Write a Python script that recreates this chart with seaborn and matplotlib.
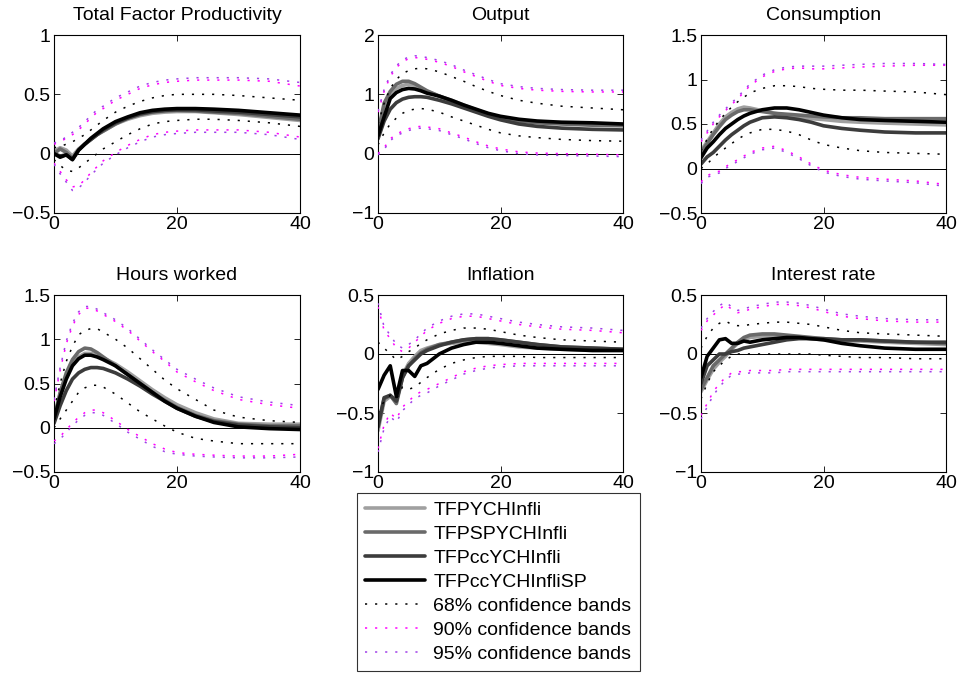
import matplotlib
matplotlib.use("Agg")
import matplotlib.pyplot as plt
import seaborn as sns
import pandas as pd
from matplotlib.ticker import FuncFormatter

# ---------------- data ----------------
t = [0, 1, 2, 3, 4, 5, 6, 7, 8, 10, 12, 14, 16, 18, 20, 23, 26, 30, 35, 40]

series_labels = ["TFPYCHInfli", "TFPSPYCHInfli", "TFPccYCHInfli", "TFPccYCHInfliSP"]
band_labels = ["68% confidence bands", "90% confidence bands", "95% confidence bands"]
titles = ["Total Factor Productivity", "Output", "Consumption",
          "Hours worked", "Inflation", "Interest rate"]
ylims = [(-0.5, 1), (-1, 2), (-0.5, 1.5), (-0.5, 1.5), (-1, 0.5), (-1, 0.5)]
yticks = [[-0.5, 0, 0.5, 1], [-1, 0, 1, 2], [-0.5, 0, 0.5, 1, 1.5],
          [-0.5, 0, 0.5, 1, 1.5], [-1, -0.5, 0, 0.5], [-1, -0.5, 0, 0.5]]
xticks = [0, 20, 40]

# Total Factor Productivity
tfp_a = [0.02, 0.05, 0.03, -0.02, 0.04, 0.08, 0.12, 0.16, 0.19, 0.25, 0.29, 0.32, 0.34, 0.35, 0.355, 0.355, 0.345, 0.33, 0.305, 0.28]
tfp_b = [0.0, 0.04, 0.01, -0.04, 0.03, 0.08, 0.12, 0.16, 0.19, 0.25, 0.3, 0.33, 0.35, 0.36, 0.365, 0.36, 0.35, 0.34, 0.315, 0.29]
tfp_c = [0.0, -0.02, -0.01, -0.05, 0.03, 0.08, 0.12, 0.16, 0.2, 0.26, 0.3, 0.335, 0.355, 0.365, 0.37, 0.37, 0.36, 0.35, 0.33, 0.31]
tfp_d = [0.0, -0.03, -0.01, -0.05, 0.03, 0.08, 0.13, 0.17, 0.21, 0.27, 0.31, 0.345, 0.365, 0.375, 0.38, 0.38, 0.375, 0.365, 0.345, 0.325]
tfp_u68 = [0.05, 0.06, 0.08, 0.1, 0.13, 0.16, 0.2, 0.24, 0.28, 0.35, 0.4, 0.44, 0.47, 0.49, 0.5, 0.5, 0.5, 0.49, 0.47, 0.45]
tfp_l68 = [-0.05, -0.1, -0.14, -0.15, -0.12, -0.08, -0.04, 0.0, 0.04, 0.1, 0.16, 0.21, 0.25, 0.27, 0.28, 0.29, 0.29, 0.28, 0.26, 0.23]
tfp_u90 = [0.08, 0.1, 0.13, 0.16, 0.2, 0.25, 0.3, 0.35, 0.38, 0.45, 0.5, 0.55, 0.58, 0.6, 0.61, 0.62, 0.62, 0.62, 0.61, 0.57]
tfp_l90 = [-0.08, -0.15, -0.22, -0.28, -0.27, -0.22, -0.16, -0.11, -0.06, 0.01, 0.07, 0.12, 0.16, 0.18, 0.19, 0.2, 0.2, 0.2, 0.18, 0.14]
tfp_u95 = [0.09, 0.11, 0.14, 0.18, 0.22, 0.27, 0.32, 0.37, 0.4, 0.47, 0.52, 0.57, 0.6, 0.62, 0.63, 0.64, 0.64, 0.64, 0.63, 0.6]
tfp_l95 = [-0.09, -0.17, -0.24, -0.31, -0.29, -0.24, -0.18, -0.13, -0.08, -0.01, 0.05, 0.1, 0.14, 0.16, 0.17, 0.18, 0.18, 0.18, 0.16, 0.12]

# Output
out_a = [0.35, 0.8, 1.0, 1.1, 1.15, 1.17, 1.15, 1.1, 1.05, 0.97, 0.9, 0.82, 0.74, 0.67, 0.61, 0.56, 0.53, 0.51, 0.49, 0.48]
out_b = [0.35, 0.85, 1.05, 1.17, 1.22, 1.22, 1.18, 1.12, 1.06, 0.97, 0.89, 0.81, 0.73, 0.66, 0.6, 0.55, 0.52, 0.5, 0.48, 0.47]
out_c = [0.25, 0.55, 0.75, 0.86, 0.92, 0.95, 0.96, 0.96, 0.95, 0.9, 0.84, 0.77, 0.7, 0.63, 0.57, 0.5, 0.46, 0.43, 0.41, 0.4]
out_d = [0.3, 0.62, 0.93, 1.03, 1.08, 1.1, 1.09, 1.06, 1.02, 0.97, 0.9, 0.82, 0.75, 0.68, 0.63, 0.58, 0.55, 0.53, 0.52, 0.5]
out_u68 = [0.5, 0.85, 1.1, 1.25, 1.35, 1.4, 1.43, 1.44, 1.43, 1.38, 1.3, 1.22, 1.13, 1.05, 0.98, 0.9, 0.85, 0.8, 0.77, 0.74]
out_l68 = [0.15, 0.35, 0.5, 0.6, 0.68, 0.73, 0.75, 0.76, 0.75, 0.7, 0.62, 0.55, 0.48, 0.41, 0.35, 0.3, 0.27, 0.24, 0.22, 0.21]
out_u90 = [0.7, 1.05, 1.3, 1.45, 1.55, 1.6, 1.62, 1.61, 1.59, 1.54, 1.47, 1.38, 1.3, 1.22, 1.15, 1.1, 1.07, 1.05, 1.04, 1.04]
out_l90 = [0.0, 0.1, 0.25, 0.33, 0.38, 0.42, 0.45, 0.46, 0.45, 0.42, 0.35, 0.28, 0.2, 0.13, 0.08, 0.03, 0.01, 0.0, -0.01, -0.02]
out_u95 = [0.72, 1.08, 1.33, 1.48, 1.58, 1.63, 1.65, 1.64, 1.62, 1.57, 1.5, 1.41, 1.33, 1.25, 1.18, 1.13, 1.1, 1.08, 1.07, 1.07]
out_l95 = [-0.02, 0.07, 0.22, 0.3, 0.35, 0.39, 0.42, 0.43, 0.42, 0.39, 0.32, 0.25, 0.17, 0.1, 0.05, 0.0, -0.02, -0.03, -0.04, -0.05]

# Consumption
con_a = [0.2, 0.3, 0.4, 0.5, 0.58, 0.63, 0.67, 0.69, 0.68, 0.65, 0.62, 0.6, 0.58, 0.56, 0.55, 0.53, 0.52, 0.51, 0.5, 0.49]
con_b = [0.18, 0.28, 0.38, 0.47, 0.55, 0.6, 0.64, 0.66, 0.66, 0.64, 0.62, 0.61, 0.6, 0.59, 0.58, 0.57, 0.57, 0.56, 0.56, 0.56]
con_c = [0.05, 0.13, 0.18, 0.25, 0.32, 0.38, 0.43, 0.48, 0.52, 0.57, 0.58, 0.57, 0.55, 0.52, 0.48, 0.45, 0.43, 0.41, 0.4, 0.4]
con_d = [0.12, 0.23, 0.3, 0.38, 0.45, 0.5, 0.55, 0.59, 0.62, 0.66, 0.68, 0.68, 0.66, 0.63, 0.6, 0.57, 0.55, 0.54, 0.53, 0.52]
con_u68 = [0.2, 0.33, 0.45, 0.54, 0.62, 0.69, 0.75, 0.8, 0.85, 0.9, 0.93, 0.93, 0.92, 0.9, 0.89, 0.88, 0.88, 0.87, 0.86, 0.83]
con_l68 = [0.0, 0.05, 0.12, 0.18, 0.23, 0.28, 0.33, 0.37, 0.4, 0.44, 0.44, 0.42, 0.38, 0.32, 0.27, 0.23, 0.2, 0.18, 0.17, 0.16]
con_u90 = [0.3, 0.4, 0.5, 0.58, 0.65, 0.72, 0.78, 0.86, 0.93, 1.03, 1.09, 1.12, 1.13, 1.12, 1.12, 1.13, 1.14, 1.15, 1.16, 1.16]
con_l90 = [-0.15, -0.08, -0.05, -0.03, 0.02, 0.06, 0.1, 0.14, 0.18, 0.23, 0.25, 0.2, 0.13, 0.05, -0.02, -0.07, -0.1, -0.12, -0.14, -0.18]
con_u95 = [0.32, 0.42, 0.52, 0.6, 0.67, 0.74, 0.8, 0.88, 0.95, 1.05, 1.11, 1.14, 1.15, 1.15, 1.15, 1.16, 1.17, 1.18, 1.18, 1.17]
con_l95 = [-0.17, -0.1, -0.07, -0.05, 0.0, 0.04, 0.08, 0.12, 0.16, 0.21, 0.23, 0.18, 0.11, 0.03, -0.04, -0.09, -0.12, -0.14, -0.16, -0.2]

# Hours worked
hrs_a = [0.1, 0.38, 0.58, 0.72, 0.8, 0.84, 0.84, 0.82, 0.79, 0.72, 0.63, 0.53, 0.43, 0.34, 0.26, 0.17, 0.1, 0.05, 0.04, 0.04]
hrs_b = [0.1, 0.4, 0.62, 0.77, 0.86, 0.9, 0.89, 0.85, 0.8, 0.7, 0.6, 0.5, 0.4, 0.31, 0.23, 0.14, 0.08, 0.04, 0.02, 0.02]
hrs_c = [0.05, 0.25, 0.42, 0.55, 0.62, 0.66, 0.68, 0.68, 0.67, 0.62, 0.55, 0.47, 0.38, 0.3, 0.22, 0.13, 0.07, 0.03, 0.01, 0.0]
hrs_d = [0.1, 0.35, 0.55, 0.7, 0.78, 0.82, 0.82, 0.8, 0.77, 0.7, 0.6, 0.5, 0.4, 0.3, 0.22, 0.13, 0.06, 0.01, -0.01, -0.02]
hrs_u68 = [0.2, 0.5, 0.75, 0.92, 1.05, 1.1, 1.12, 1.12, 1.08, 1.0, 0.9, 0.78, 0.66, 0.54, 0.44, 0.32, 0.2, 0.12, 0.08, 0.06]
hrs_l68 = [0.0, 0.1, 0.2, 0.3, 0.4, 0.45, 0.48, 0.48, 0.46, 0.38, 0.28, 0.18, 0.1, 0.02, -0.05, -0.12, -0.15, -0.18, -0.18, -0.18]
hrs_u90 = [0.3, 0.65, 0.95, 1.15, 1.28, 1.35, 1.35, 1.32, 1.28, 1.2, 1.1, 0.98, 0.86, 0.75, 0.63, 0.52, 0.42, 0.32, 0.26, 0.22]
hrs_l90 = [-0.15, -0.1, -0.02, 0.05, 0.12, 0.17, 0.2, 0.2, 0.17, 0.08, -0.02, -0.1, -0.18, -0.24, -0.28, -0.3, -0.31, -0.32, -0.32, -0.3]
hrs_u95 = [0.32, 0.68, 0.98, 1.18, 1.31, 1.37, 1.37, 1.34, 1.3, 1.22, 1.12, 1.0, 0.88, 0.77, 0.66, 0.55, 0.45, 0.35, 0.29, 0.25]
hrs_l95 = [-0.18, -0.13, -0.05, 0.02, 0.09, 0.14, 0.17, 0.17, 0.14, 0.05, -0.05, -0.13, -0.21, -0.27, -0.3, -0.32, -0.33, -0.34, -0.34, -0.33]

# Inflation
inf_a = [-0.65, -0.4, -0.36, -0.38, -0.18, -0.08, -0.02, 0.03, 0.05, 0.08, 0.09, 0.1, 0.1, 0.09, 0.08, 0.06, 0.05, 0.04, 0.03, 0.03]
inf_b = [-0.6, -0.38, -0.35, -0.42, -0.2, -0.1, -0.04, 0.01, 0.04, 0.08, 0.1, 0.12, 0.13, 0.13, 0.12, 0.1, 0.08, 0.06, 0.05, 0.04]
inf_c = [-0.62, -0.37, -0.35, -0.4, -0.2, -0.1, -0.05, 0.0, 0.03, 0.07, 0.1, 0.12, 0.13, 0.13, 0.12, 0.1, 0.08, 0.06, 0.05, 0.04]
inf_d = [-0.3, -0.18, -0.1, -0.36, -0.14, -0.14, -0.19, -0.1, -0.08, 0.0, 0.05, 0.08, 0.1, 0.1, 0.09, 0.07, 0.05, 0.04, 0.03, 0.03]
inf_u68 = [0.1, 0.05, 0.0, -0.05, -0.02, 0.02, 0.05, 0.09, 0.12, 0.17, 0.2, 0.22, 0.22, 0.21, 0.19, 0.16, 0.14, 0.12, 0.11, 0.1]
inf_l68 = [-0.5, -0.4, -0.35, -0.38, -0.28, -0.3, -0.28, -0.24, -0.2, -0.13, -0.08, -0.05, -0.03, -0.02, -0.02, -0.02, -0.03, -0.03, -0.03, -0.03]
inf_u90 = [0.4, 0.2, 0.13, 0.05, 0.02, 0.05, 0.1, 0.15, 0.2, 0.26, 0.3, 0.32, 0.32, 0.3, 0.28, 0.25, 0.23, 0.21, 0.2, 0.18]
inf_l90 = [-0.8, -0.6, -0.5, -0.55, -0.45, -0.4, -0.35, -0.32, -0.3, -0.25, -0.2, -0.15, -0.12, -0.1, -0.09, -0.08, -0.08, -0.08, -0.08, -0.08]
inf_u95 = [0.43, 0.23, 0.16, 0.08, 0.05, 0.08, 0.12, 0.17, 0.22, 0.28, 0.32, 0.34, 0.34, 0.32, 0.3, 0.27, 0.25, 0.23, 0.22, 0.2]
inf_l95 = [-0.83, -0.63, -0.53, -0.58, -0.48, -0.43, -0.38, -0.35, -0.33, -0.27, -0.22, -0.17, -0.14, -0.12, -0.11, -0.1, -0.1, -0.1, -0.1, -0.1]

# Interest rate
int_a = [-0.32, -0.22, -0.13, -0.07, -0.02, 0.04, 0.09, 0.12, 0.14, 0.15, 0.15, 0.14, 0.14, 0.13, 0.12, 0.11, 0.11, 0.1, 0.09, 0.08]
int_b = [-0.3, -0.2, -0.1, -0.05, 0.0, 0.05, 0.1, 0.14, 0.16, 0.17, 0.17, 0.16, 0.15, 0.14, 0.13, 0.12, 0.12, 0.11, 0.1, 0.09]
int_c = [-0.25, -0.1, -0.05, 0.0, 0.0, 0.02, 0.03, 0.05, 0.06, 0.08, 0.1, 0.12, 0.13, 0.13, 0.13, 0.12, 0.12, 0.11, 0.1, 0.1]
int_d = [-0.2, -0.02, 0.05, 0.12, 0.13, 0.09, 0.09, 0.11, 0.1, 0.12, 0.13, 0.14, 0.14, 0.13, 0.12, 0.09, 0.07, 0.05, 0.04, 0.04]
int_u68 = [0.05, 0.15, 0.22, 0.26, 0.28, 0.25, 0.24, 0.24, 0.25, 0.26, 0.27, 0.27, 0.26, 0.25, 0.23, 0.2, 0.18, 0.17, 0.16, 0.15]
int_l68 = [-0.38, -0.25, -0.15, -0.1, -0.05, -0.02, 0.0, 0.0, 0.0, 0.0, 0.0, 0.0, 0.0, 0.0, -0.01, -0.02, -0.03, -0.03, -0.04, -0.04]
int_u90 = [0.2, 0.28, 0.33, 0.38, 0.42, 0.38, 0.35, 0.36, 0.38, 0.4, 0.42, 0.42, 0.41, 0.39, 0.36, 0.32, 0.3, 0.28, 0.27, 0.27]
int_l90 = [-0.52, -0.42, -0.32, -0.25, -0.2, -0.16, -0.15, -0.15, -0.14, -0.14, -0.14, -0.13, -0.13, -0.13, -0.13, -0.13, -0.13, -0.13, -0.13, -0.13]
int_u95 = [0.22, 0.3, 0.36, 0.41, 0.44, 0.4, 0.37, 0.38, 0.4, 0.42, 0.44, 0.44, 0.43, 0.41, 0.38, 0.34, 0.32, 0.3, 0.29, 0.29]
int_l95 = [-0.55, -0.45, -0.35, -0.28, -0.22, -0.18, -0.17, -0.17, -0.16, -0.16, -0.16, -0.15, -0.15, -0.15, -0.15, -0.15, -0.15, -0.15, -0.15, -0.15]

panels = [
    ([tfp_a, tfp_b, tfp_c, tfp_d], [(tfp_u68, tfp_l68), (tfp_u90, tfp_l90), (tfp_u95, tfp_l95)]),
    ([out_a, out_b, out_c, out_d], [(out_u68, out_l68), (out_u90, out_l90), (out_u95, out_l95)]),
    ([con_a, con_b, con_c, con_d], [(con_u68, con_l68), (con_u90, con_l90), (con_u95, con_l95)]),
    ([hrs_a, hrs_b, hrs_c, hrs_d], [(hrs_u68, hrs_l68), (hrs_u90, hrs_l90), (hrs_u95, hrs_l95)]),
    ([inf_a, inf_b, inf_c, inf_d], [(inf_u68, inf_l68), (inf_u90, inf_l90), (inf_u95, inf_l95)]),
    ([int_a, int_b, int_c, int_d], [(int_u68, int_l68), (int_u90, int_l90), (int_u95, int_l95)]),
]

# ---------------- style ----------------
sns.set_style("ticks")
plt.rcParams["font.family"] = ["Liberation Sans", "DejaVu Sans"]
plt.rcParams["text.color"] = "black"
plt.rcParams["axes.labelcolor"] = "black"
plt.rcParams["xtick.color"] = "black"
plt.rcParams["ytick.color"] = "black"
plt.rcParams["xtick.direction"] = "in"
plt.rcParams["ytick.direction"] = "in"
plt.rcParams["xtick.top"] = True
plt.rcParams["ytick.right"] = True
plt.rcParams["axes.linewidth"] = 0.8
plt.rcParams["axes.edgecolor"] = "black"

FS = 14
line_colors = ["#a0a0a0", "#6a6a6a", "#3c3c3c", "#000000"]
band_colors = ["#000000", "#ff00ff", "#a040e8"]
band_style = (0, (1.4, 5.2))

fig = plt.figure(figsize=(9.59, 6.73), dpi=100)

W, H = 959.0, 673.0
lefts = [54, 378, 701]
widths = [246, 245, 245]
rows = [(35, 213), (295, 472)]

fmt = FuncFormatter(lambda v, p: ("%g" % v).replace("-", "\u2212"))

legend_handles = None
for i, (means, bands) in enumerate(panels):
    r, c = divmod(i, 3)
    top, bot = rows[r]
    ax = fig.add_axes([lefts[c] / W, 1 - bot / H, widths[c] / W, (bot - top) / H])
    ax.axhline(0, color="black", lw=0.7, zorder=1)
    for k, vals in enumerate(means):
        sns.lineplot(x=t, y=vals, ax=ax, color=line_colors[k], lw=2.6,
                     label=series_labels[k], zorder=2)
    for k, (up, lo) in enumerate(bands):
        sns.lineplot(x=t, y=up, ax=ax, color=band_colors[k], lw=1.1,
                     linestyle=band_style, label=band_labels[k], zorder=3)
        sns.lineplot(x=t, y=lo, ax=ax, color=band_colors[k], lw=1.1,
                     linestyle=band_style, zorder=3)
    if legend_handles is None:
        legend_handles = ax.get_legend_handles_labels()
    if ax.get_legend() is not None:
        ax.get_legend().remove()
    ax.set_xlim(0, 40)
    ax.set_ylim(*ylims[i])
    ax.set_xticks(xticks)
    ax.set_yticks(yticks[i])
    ax.yaxis.set_major_formatter(fmt)
    ax.tick_params(axis="both", labelsize=FS, length=4, width=0.6, pad=2.5, colors="black")
    ax.set_xlabel("")
    ax.set_ylabel("")
    ax.set_title(titles[i], fontsize=FS, pad=10.5, color="black")
    for s in ax.spines.values():
        s.set_visible(True)
        s.set_color("black")

handles, labels = legend_handles
leg = fig.legend(handles, labels, loc="upper left",
                 bbox_to_anchor=(357 / W, 1 - 493 / H),
                 fontsize=FS, frameon=True, fancybox=False,
                 handlelength=3.1, handletextpad=0.4, labelspacing=0.33,
                 borderpad=0.42, borderaxespad=0)
leg.get_frame().set_edgecolor("black")
leg.get_frame().set_linewidth(0.8)
leg.set_zorder(10)

fig.savefig("out.png", dpi=100)
